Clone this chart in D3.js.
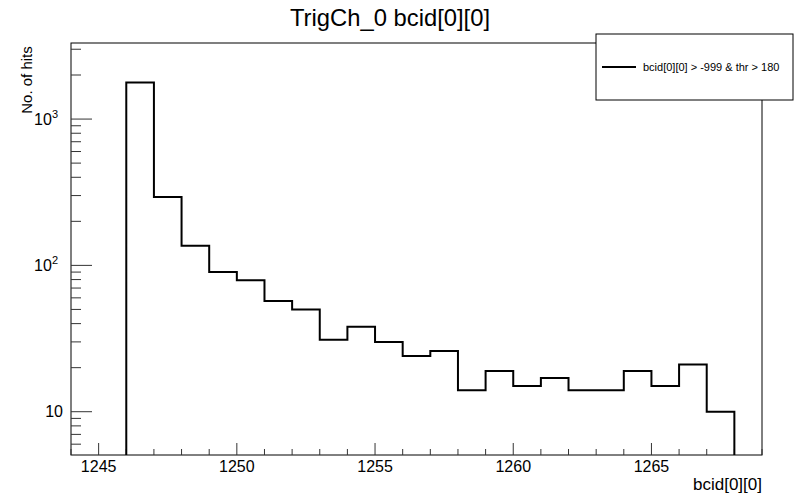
<!DOCTYPE html>
<html><head><meta charset="utf-8">
<script src="https://cdn.jsdelivr.net/npm/d3@7"></script>
<style>body{margin:0;background:#fff;} text{font-family:"Liberation Sans",Arial,sans-serif;}</style>
</head><body>
<svg id="c" width="795" height="495"></svg>
<script>
const binStarts = [1246,1247,1248,1249,1250,1251,1252,1253,1254,1255,1256,1257,1258,1259,1260,1261,1262,1263,1264,1265,1266,1267];
const counts = [1780,293,136,90,79,57,50,31,38,30,24,26,14,19,15,17,14,14,19,15,21,10];
const xTickLabels = [1245,1250,1255,1260,1265];
const yTickLabels = [10,100,1000];
const title = "TrigCh_0 bcid[0][0]";
const xTitle = "bcid[0][0]";
const yTitle = "No. of hits";
const legendText = "bcid[0][0] > -999 & thr > 180";

const svg = d3.select("#c");
const L=71,R=762,T=43,B=455;
const x = d3.scaleLinear().domain([1244,1269]).range([L,R]);
const y = d3.scaleLog().domain([5.06,3310]).range([B,T]);

// frame
svg.append("rect").attr("x",L).attr("y",T).attr("width",R-L).attr("height",B-T)
  .attr("fill","none").attr("stroke","#000").attr("stroke-width",1);

// x ticks
const xMinor = d3.range(1244,1270,1);
svg.selectAll(".xt").data(xMinor).enter().append("line")
  .attr("x1",d=>x(d)).attr("x2",d=>x(d))
  .attr("y1",B).attr("y2",d=>B-(d%5===0?12:6))
  .attr("stroke","#333").attr("stroke-width",1);
svg.selectAll(".xl").data(xTickLabels).enter().append("text")
  .attr("x",d=>x(d)).attr("y",472).attr("text-anchor","middle")
  .attr("font-size",16).text(d=>d);

// y ticks
const yMinor=[];
[1,10,100,1000].forEach(dec=>{for(let k=1;k<10;k++){const v=dec*k; if(v>=5.06&&v<=3310) yMinor.push(v);}});
svg.selectAll(".yt").data(yMinor).enter().append("line")
  .attr("x1",L).attr("x2",d=>L+(yTickLabels.includes(d)?21:10))
  .attr("y1",d=>y(d)).attr("y2",d=>y(d))
  .attr("stroke","#333").attr("stroke-width",1);
yTickLabels.forEach(v=>{
  const t=svg.append("text").attr("y",y(v)+5.5).attr("font-size",16).attr("text-anchor","end");
  if(v===10){ t.attr("x",63).text("10"); }
  else {
    t.attr("x",58);
    t.append("tspan").text("10");
    t.append("tspan").attr("font-size",11).attr("dy",-7).text(Math.round(Math.log10(v)));
  }
});

// histogram
const pts=[[x(binStarts[0]),B]];
binStarts.forEach((b,i)=>{pts.push([x(b),y(counts[i])]);pts.push([x(b+1),y(counts[i])]);});
pts.push([x(binStarts[binStarts.length-1]+1),B]);
svg.append("path").attr("d",d3.line()(pts)).attr("fill","none")
  .attr("stroke","#000").attr("stroke-width",2);

// titles
svg.append("text").attr("x",390).attr("y",26).attr("text-anchor","middle").attr("font-size",23.8).text(title);
svg.append("text").attr("x",R).attr("y",490).attr("text-anchor","end").attr("font-size",17).text(xTitle);
svg.append("text").attr("transform","translate(32,80) rotate(-90)").attr("text-anchor","middle")
  .attr("font-size",15).text(yTitle);

// legend
svg.append("rect").attr("x",596).attr("y",34).attr("width",197).attr("height",66)
  .attr("fill","#fff").attr("stroke","#000").attr("stroke-width",1);
svg.append("line").attr("x1",602).attr("x2",636).attr("y1",67).attr("y2",67).attr("stroke","#000").attr("stroke-width",2);
svg.append("text").attr("x",643).attr("y",71).attr("font-size",11).text(legendText);
</script>
</body></html>
